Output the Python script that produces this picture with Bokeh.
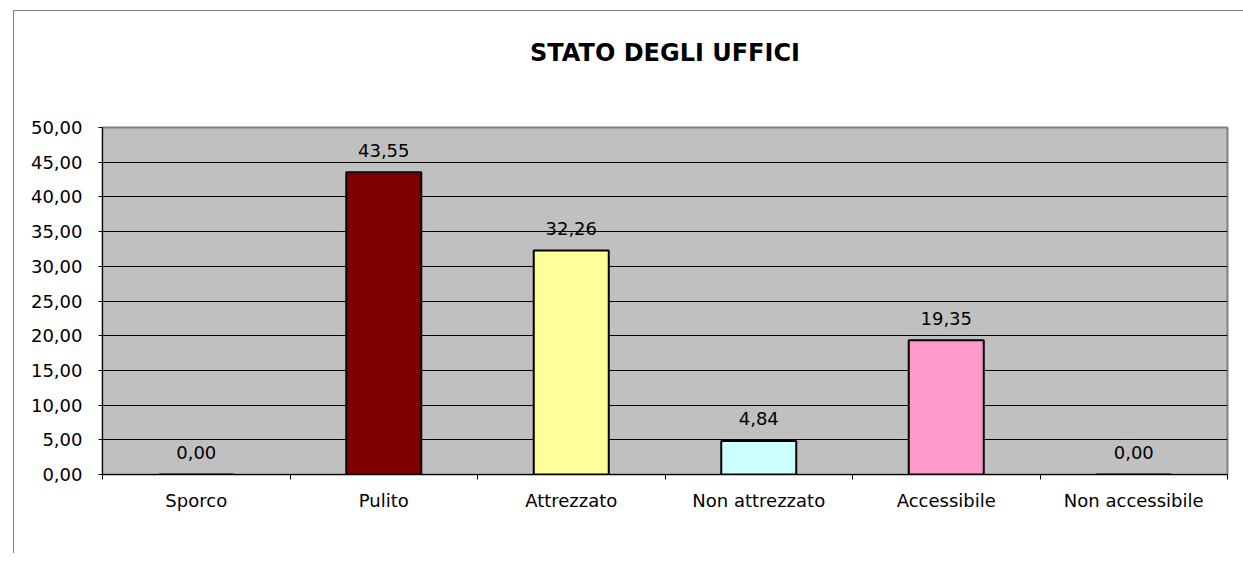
import numpy as np
from bokeh.plotting import figure
from bokeh.models import ColumnDataSource, FixedTicker, CustomJSTickFormatter, Range1d, Title, LabelSet
from bokeh.core.properties import value
from bokeh.embed import file_html
from bokeh.resources import INLINE

categories = ["Sporco", "Pulito", "Attrezzato", "Non attrezzato", "Accessibile", "Non accessibile"]
values = [0.00, 43.55, 32.26, 4.84, 19.35, 0.00]
colors = ["#C0C0C0", "#800000", "#FFFF99", "#CCFFFF", "#FF99CC", "#C0C0C0"]
y_ticks = [0, 5, 10, 15, 20, 25, 30, 35, 40, 45, 50]
title_text = "STATO DEGLI UFFICI"

FONT = "DejaVu Sans"

xc = np.arange(len(categories)) + 0.5
labels = [f"{v:.2f}".replace(".", ",") for v in values]
src = ColumnDataSource(dict(x=xc, top=values, color=colors, label=labels))

p = figure(width=1230, height=543, output_backend="svg", toolbar_location=None,
           x_range=Range1d(0, len(categories)), y_range=Range1d(0, y_ticks[-1]),
           min_border_left=88, min_border_right=17, min_border_top=116, min_border_bottom=80)
p.margin = (10, 0, 0, 13)
p.styles = {"border-left": "1px solid #808080", "border-top": "1px solid #808080"}

p.background_fill_color = "#C0C0C0"
p.border_fill_color = "white"
p.outline_line_color = "#808080"
p.outline_line_width = 2

p.title = Title(text=title_text, align="center", text_font=FONT,
                text_font_size="24px", text_font_style="bold", text_color="black",
                standoff=0)
# blank spacer between the title and the plot area
p.add_layout(Title(text=" ", text_font_size="2px", standoff=57), "above")

p.vbar(x="x", top="top", bottom=0, width=0.4, fill_color="color", line_color="black",
       line_width=2, source=src)

lbl = LabelSet(x="x", y="top", text="label", source=src, text_align="center",
               text_baseline="middle", y_offset=22, text_font=value(FONT),
               text_font_size=value("18px"), text_color="black")
p.add_layout(lbl)

p.xgrid.visible = False
p.ygrid.grid_line_color = "black"
p.ygrid.grid_line_width = 1
p.ygrid.ticker = FixedTicker(ticks=y_ticks)

yax = p.yaxis[0]
yax.ticker = FixedTicker(ticks=y_ticks)
yax.formatter = CustomJSTickFormatter(code="return tick.toFixed(2).replace('.', ',');")
yax.axis_line_color = "black"
yax.major_tick_in = 0
yax.major_tick_out = 4
yax.minor_tick_line_color = None
yax.major_label_standoff = 16
yax.major_label_text_font = FONT
yax.major_label_text_font_size = "18px"
yax.major_label_text_color = "black"

xax = p.xaxis[0]
xax.ticker = FixedTicker(ticks=list(xc), minor_ticks=list(range(len(categories) + 1)))
xax.major_label_overrides = {float(x): c for x, c in zip(xc, categories)}
xax.axis_line_color = "black"
xax.major_tick_in = 0
xax.major_tick_out = 0
xax.minor_tick_in = 0
xax.minor_tick_out = 5
xax.minor_tick_line_color = "black"
xax.major_label_standoff = 10
xax.major_label_text_font = FONT
xax.major_label_text_font_size = "18px"
xax.major_label_text_color = "black"

open("out.html", "w").write(file_html(p, INLINE))
